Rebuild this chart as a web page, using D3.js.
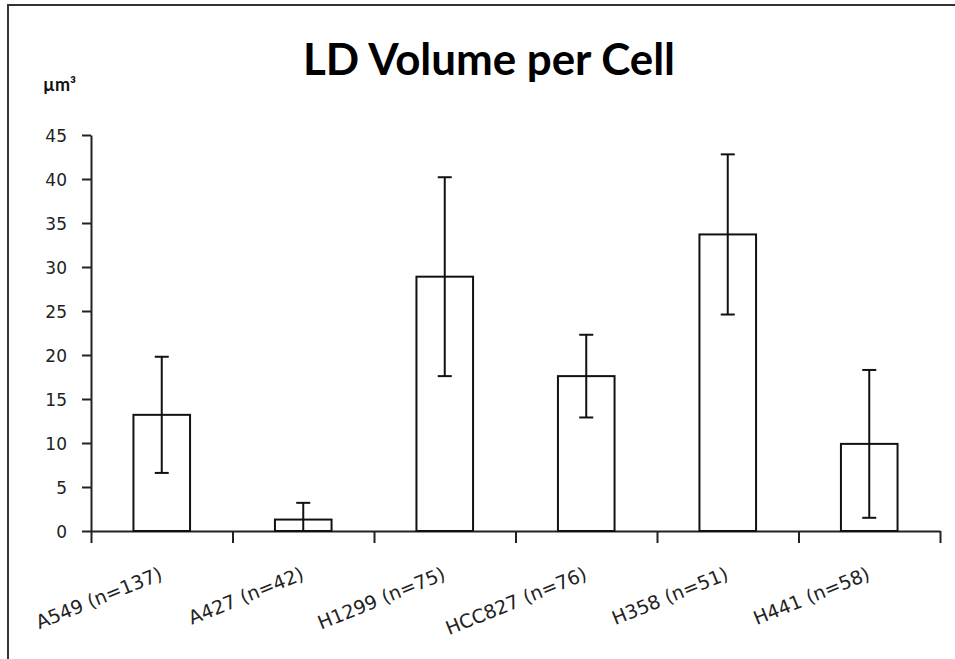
<!DOCTYPE html>
<html>
<head>
<meta charset="utf-8">
<script src="https://cdn.jsdelivr.net/npm/d3@7"></script>
<style>
  body { margin: 0; background: #fff; }
</style>
</head>
<body>
<script>
// chart data
var categories = ["A549 (n=137)", "A427 (n=42)", "H1299 (n=75)", "HCC827 (n=76)", "H358 (n=51)", "H441 (n=58)"];
var means = [13.2, 1.3, 28.9, 17.6, 33.7, 9.9];
var errors = [6.6, 1.9, 11.3, 4.7, 9.1, 8.4];
var yTicks = [0, 5, 10, 15, 20, 25, 30, 35, 40, 45];

var data = categories.map(function(c, i) {
  return {name: c, mean: means[i], err: errors[i]};
});

// set the dimensions and margins of the graph
var margin = {top: 135, right: 15, bottom: 128, left: 91},
    width = 955 - margin.left - margin.right,
    height = 659 - margin.top - margin.bottom;

var x = d3.scaleBand()
    .domain(categories)
    .range([0, width])
    .padding(0);
var xEdge = d3.scaleLinear()
    .domain([0, categories.length])
    .range([0, width]);
var y = d3.scaleLinear()
    .domain([0, 45])
    .range([height, 0]);

var root = d3.select("body").append("svg")
    .attr("width", 955)
    .attr("height", 659);

root.append("rect")
    .attr("width", "100%")
    .attr("height", "100%")
    .attr("fill", "#ffffff");

// outer frame (only top and left edges fall inside the picture)
root.append("rect")
    .attr("x", 8)
    .attr("y", 5)
    .attr("width", 1000)
    .attr("height", 700)
    .attr("fill", "none")
    .attr("stroke", "#333")
    .attr("stroke-width", 2);

root.append("text")
    .attr("x", 303)
    .attr("y", 75)
    .attr("font-family", "Lato, 'Open Sans', sans-serif")
    .attr("font-weight", "bold")
    .attr("font-size", "43px")
    .attr("textLength", 372)
    .attr("lengthAdjust", "spacingAndGlyphs")
    .attr("fill", "#000")
    .text("LD Volume per Cell");

root.append("text")
    .attr("x", 43)
    .attr("y", 91)
    .attr("font-family", "Lato, 'Open Sans', sans-serif")
    .attr("font-weight", "bold")
    .attr("font-size", "18px")
    .attr("fill", "#111")
    .text("µm³");

var svg = root.append("g")
    .attr("transform", "translate(" + margin.left + "," + margin.top + ")");

// y axis
var yAxis = svg.append("g")
    .call(d3.axisLeft(y).tickValues(yTicks).tickSize(9).tickSizeOuter(0).tickPadding(15));
yAxis.attr("font-family", "'DejaVu Sans', Verdana, sans-serif")
    .attr("font-size", "17px");
yAxis.selectAll("text").attr("fill", "#222").attr("dy", "0.36em");

// x axis with ticks on category edges
var xAxis = svg.append("g")
    .attr("transform", "translate(0," + height + ")")
    .call(d3.axisBottom(xEdge).tickValues(d3.range(categories.length + 1))
      .tickFormat("").tickSize(12).tickSizeOuter(0));

svg.selectAll(".domain, .tick line")
    .attr("stroke", "#222")
    .attr("stroke-width", 2);

// x labels
svg.selectAll(".xlabel")
    .data(data)
  .enter().append("text")
    .attr("class", "xlabel")
    .attr("transform", function(d) {
      return "translate(" + (x(d.name) + x.bandwidth() / 2 + 2) + "," + (height + 48) + ") rotate(-22)";
    })
    .attr("text-anchor", "end")
    .attr("font-family", "'DejaVu Sans', Verdana, sans-serif")
    .attr("font-size", "19px")
    .attr("fill", "#222")
    .text(function(d) { return d.name; });

// bars
var bw = x.bandwidth() * 0.4;
svg.selectAll(".bar")
    .data(data)
  .enter().append("rect")
    .attr("class", "bar")
    .attr("x", function(d) { return x(d.name) + (x.bandwidth() - bw) / 2; })
    .attr("width", bw)
    .attr("y", function(d) { return y(d.mean); })
    .attr("height", function(d) { return height - y(d.mean); })
    .attr("fill", "#fff")
    .attr("stroke", "#111")
    .attr("stroke-width", 2);

// error bars
var cap = 7;
var eb = svg.selectAll(".err")
    .data(data)
  .enter().append("g")
    .attr("class", "err")
    .attr("stroke", "#111")
    .attr("stroke-width", 2);

eb.append("line")
    .attr("x1", function(d) { return x(d.name) + x.bandwidth() / 2; })
    .attr("x2", function(d) { return x(d.name) + x.bandwidth() / 2; })
    .attr("y1", function(d) { return y(d.mean + d.err); })
    .attr("y2", function(d) { return y(Math.max(0, d.mean - d.err)); });

eb.append("line")
    .attr("x1", function(d) { return x(d.name) + x.bandwidth() / 2 - cap; })
    .attr("x2", function(d) { return x(d.name) + x.bandwidth() / 2 + cap; })
    .attr("y1", function(d) { return y(d.mean + d.err); })
    .attr("y2", function(d) { return y(d.mean + d.err); });

eb.filter(function(d) { return d.mean - d.err > 0; })
  .append("line")
    .attr("x1", function(d) { return x(d.name) + x.bandwidth() / 2 - cap; })
    .attr("x2", function(d) { return x(d.name) + x.bandwidth() / 2 + cap; })
    .attr("y1", function(d) { return y(d.mean - d.err); })
    .attr("y2", function(d) { return y(d.mean - d.err); });
</script>
</body>
</html>
